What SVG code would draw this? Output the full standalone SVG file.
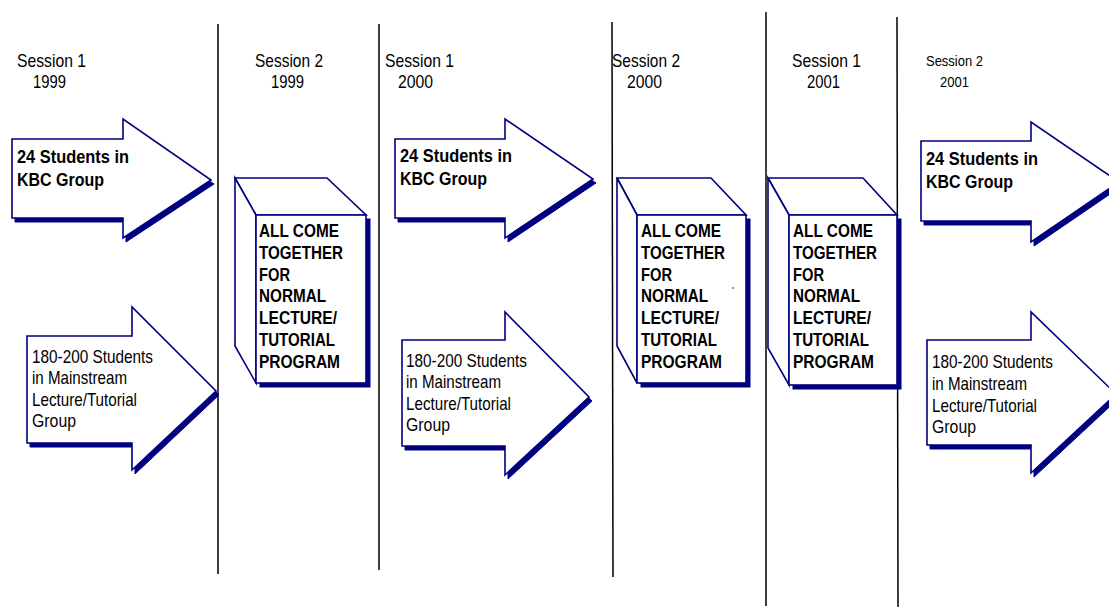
<svg xmlns="http://www.w3.org/2000/svg" width="1109" height="607" viewBox="0 0 1109 607">
<style>
.bg{fill:#ffffff}
.div{stroke:#000000;stroke-width:1.5;fill:none}
.sh{fill:#000080;stroke:#000080;stroke-width:1}
.ar{fill:#ffffff;stroke:#000080;stroke-width:1.6;stroke-linejoin:miter}
.lbl{font-family:"Liberation Sans",Arial,sans-serif;font-size:19px;fill:#000000}
.lbls{font-family:"Liberation Sans",Arial,sans-serif;font-size:15.5px;fill:#000000}
.bt{font-family:"Liberation Sans",Arial,sans-serif;font-size:19px;font-weight:bold;fill:#000000}
.rt{font-family:"Liberation Sans",Arial,sans-serif;font-size:18.5px;fill:#000000}
.xt{font-family:"Liberation Sans",Arial,sans-serif;font-size:17.5px;font-weight:bold;fill:#000000}
</style>
<rect class="bg" x="0" y="0" width="1109" height="607"/>

<g id="connectors">
<line class="div" x1="218" y1="24" x2="218" y2="574"/>
<line class="div" x1="379" y1="24" x2="379" y2="570"/>
<line class="div" x1="612" y1="22" x2="613" y2="577"/>
<line class="div" x1="766" y1="12" x2="766" y2="606"/>
<line class="div" x1="897" y1="17" x2="898" y2="607"/>
</g>

<g id="labels">
<text class="lbl" x="17" y="67" textLength="69" lengthAdjust="spacingAndGlyphs">Session 1</text>
<text class="lbl" x="33" y="88" textLength="33" lengthAdjust="spacingAndGlyphs">1999</text>
<text class="lbl" x="255" y="67" textLength="68" lengthAdjust="spacingAndGlyphs">Session 2</text>
<text class="lbl" x="271" y="88" textLength="33" lengthAdjust="spacingAndGlyphs">1999</text>
<text class="lbl" x="385" y="67" textLength="69" lengthAdjust="spacingAndGlyphs">Session 1</text>
<text class="lbl" x="398" y="88" textLength="35" lengthAdjust="spacingAndGlyphs">2000</text>
<text class="lbl" x="612" y="67" textLength="68" lengthAdjust="spacingAndGlyphs">Session 2</text>
<text class="lbl" x="627" y="88" textLength="35" lengthAdjust="spacingAndGlyphs">2000</text>
<text class="lbl" x="792" y="67" textLength="69" lengthAdjust="spacingAndGlyphs">Session 1</text>
<text class="lbl" x="807" y="88" textLength="33" lengthAdjust="spacingAndGlyphs">2001</text>
<text class="lbls" x="926" y="66" textLength="57" lengthAdjust="spacingAndGlyphs">Session 2</text>
<text class="lbls" x="940" y="87" textLength="29" lengthAdjust="spacingAndGlyphs">2001</text>
</g>

<g id="kbc1999">
<polygon class="sh" points="15,143 126,143 126,123 214,184 126,242 126,222 15,222"/>
<polygon class="ar" points="12,139 123,139 123,119 211,180 123,238 123,218 12,218"/>
<text class="bt" x="17" y="163" textLength="112" lengthAdjust="spacingAndGlyphs">24 Students in</text>
<text class="bt" x="17" y="186" textLength="87" lengthAdjust="spacingAndGlyphs">KBC Group</text>
</g>

<g id="main1999">
<polygon class="sh" points="30,340 135,340 135,311 219,395 135,474 135,447 30,447"/>
<polygon class="ar" points="27,336 132,336 132,307 216,391 132,470 132,443 27,443"/>
<text class="rt" x="32" y="363" textLength="121" lengthAdjust="spacingAndGlyphs">180-200 Students</text>
<text class="rt" x="32" y="384" textLength="95" lengthAdjust="spacingAndGlyphs">in Mainstream</text>
<text class="rt" x="32" y="406" textLength="105" lengthAdjust="spacingAndGlyphs">Lecture/Tutorial</text>
<text class="rt" x="32" y="427" textLength="44" lengthAdjust="spacingAndGlyphs">Group</text>
</g>

<g id="together1999">
<rect class="sh" x="260" y="219" width="110" height="168"/>
<polygon class="ar" points="235,178 327,178 366,215 256,215"/>
<polygon class="ar" points="235,178 256,215 256,383 235,346"/>
<rect class="ar" x="256" y="215" width="110" height="168"/>
<text class="xt" x="259" y="237" textLength="80" lengthAdjust="spacingAndGlyphs">ALL COME</text>
<text class="xt" x="259" y="259" textLength="84" lengthAdjust="spacingAndGlyphs">TOGETHER</text>
<text class="xt" x="259" y="281" textLength="31" lengthAdjust="spacingAndGlyphs">FOR</text>
<text class="xt" x="259" y="302" textLength="67" lengthAdjust="spacingAndGlyphs">NORMAL</text>
<text class="xt" x="259" y="324" textLength="78" lengthAdjust="spacingAndGlyphs">LECTURE/</text>
<text class="xt" x="259" y="346" textLength="76" lengthAdjust="spacingAndGlyphs">TUTORIAL</text>
<text class="xt" x="259" y="368" textLength="81" lengthAdjust="spacingAndGlyphs">PROGRAM</text>
</g>

<g id="kbc2000">
<polygon class="sh" points="398,143 508,143 508,123 596,183 508,242 508,222 398,222"/>
<polygon class="ar" points="395,139 505,139 505,119 593,179 505,238 505,218 395,218"/>
<text class="bt" x="400" y="162" textLength="112" lengthAdjust="spacingAndGlyphs">24 Students in</text>
<text class="bt" x="400" y="185" textLength="87" lengthAdjust="spacingAndGlyphs">KBC Group</text>
</g>

<g id="main2000">
<polygon class="sh" points="405,344 508,344 508,316 592,401 508,479 508,450 405,450"/>
<polygon class="ar" points="402,340 505,340 505,312 589,397 505,475 505,446 402,446"/>
<text class="rt" x="406" y="367" textLength="121" lengthAdjust="spacingAndGlyphs">180-200 Students</text>
<text class="rt" x="406" y="388" textLength="95" lengthAdjust="spacingAndGlyphs">in Mainstream</text>
<text class="rt" x="406" y="410" textLength="105" lengthAdjust="spacingAndGlyphs">Lecture/Tutorial</text>
<text class="rt" x="406" y="431" textLength="44" lengthAdjust="spacingAndGlyphs">Group</text>
</g>

<g id="together2000">
<rect class="sh" x="641" y="219" width="109" height="168"/>
<polygon class="ar" points="617,178 711,178 746,215 637,215"/>
<polygon class="ar" points="617,178 637,215 637,383 617,346"/>
<rect class="ar" x="637" y="215" width="109" height="168"/>
<circle cx="733" cy="288" r="0.8" fill="#000000"/>
<text class="xt" x="641" y="237" textLength="80" lengthAdjust="spacingAndGlyphs">ALL COME</text>
<text class="xt" x="641" y="259" textLength="84" lengthAdjust="spacingAndGlyphs">TOGETHER</text>
<text class="xt" x="641" y="281" textLength="31" lengthAdjust="spacingAndGlyphs">FOR</text>
<text class="xt" x="641" y="302" textLength="67" lengthAdjust="spacingAndGlyphs">NORMAL</text>
<text class="xt" x="641" y="324" textLength="78" lengthAdjust="spacingAndGlyphs">LECTURE/</text>
<text class="xt" x="641" y="346" textLength="76" lengthAdjust="spacingAndGlyphs">TUTORIAL</text>
<text class="xt" x="641" y="368" textLength="81" lengthAdjust="spacingAndGlyphs">PROGRAM</text>
</g>

<g id="together2001">
<rect class="sh" x="793" y="219" width="108" height="170"/>
<polygon class="ar" points="768,178 863,178 897,215 789,215"/>
<polygon class="ar" points="768,178 789,215 789,385 768,348"/>
<rect class="ar" x="789" y="215" width="108" height="170"/>
<text class="xt" x="793" y="237" textLength="80" lengthAdjust="spacingAndGlyphs">ALL COME</text>
<text class="xt" x="793" y="259" textLength="84" lengthAdjust="spacingAndGlyphs">TOGETHER</text>
<text class="xt" x="793" y="281" textLength="31" lengthAdjust="spacingAndGlyphs">FOR</text>
<text class="xt" x="793" y="302" textLength="67" lengthAdjust="spacingAndGlyphs">NORMAL</text>
<text class="xt" x="793" y="324" textLength="78" lengthAdjust="spacingAndGlyphs">LECTURE/</text>
<text class="xt" x="793" y="346" textLength="76" lengthAdjust="spacingAndGlyphs">TUTORIAL</text>
<text class="xt" x="793" y="368" textLength="81" lengthAdjust="spacingAndGlyphs">PROGRAM</text>
</g>

<g id="kbc2001">
<polygon class="sh" points="924,145 1034,145 1034,126 1122,186 1034,246 1034,225 924,225"/>
<polygon class="ar" points="921,141 1031,141 1031,122 1119,182 1031,242 1031,221 921,221"/>
<text class="bt" x="926" y="165" textLength="112" lengthAdjust="spacingAndGlyphs">24 Students in</text>
<text class="bt" x="926" y="188" textLength="87" lengthAdjust="spacingAndGlyphs">KBC Group</text>
</g>

<g id="main2001">
<polygon class="sh" points="930,344 1034,344 1034,316 1119,398 1034,477 1034,449 930,449"/>
<polygon class="ar" points="927,340 1031,340 1031,312 1116,394 1031,473 1031,445 927,445"/>
<text class="rt" x="932" y="368" textLength="121" lengthAdjust="spacingAndGlyphs">180-200 Students</text>
<text class="rt" x="932" y="390" textLength="95" lengthAdjust="spacingAndGlyphs">in Mainstream</text>
<text class="rt" x="932" y="412" textLength="105" lengthAdjust="spacingAndGlyphs">Lecture/Tutorial</text>
<text class="rt" x="932" y="433" textLength="44" lengthAdjust="spacingAndGlyphs">Group</text>
</g>
</svg>
